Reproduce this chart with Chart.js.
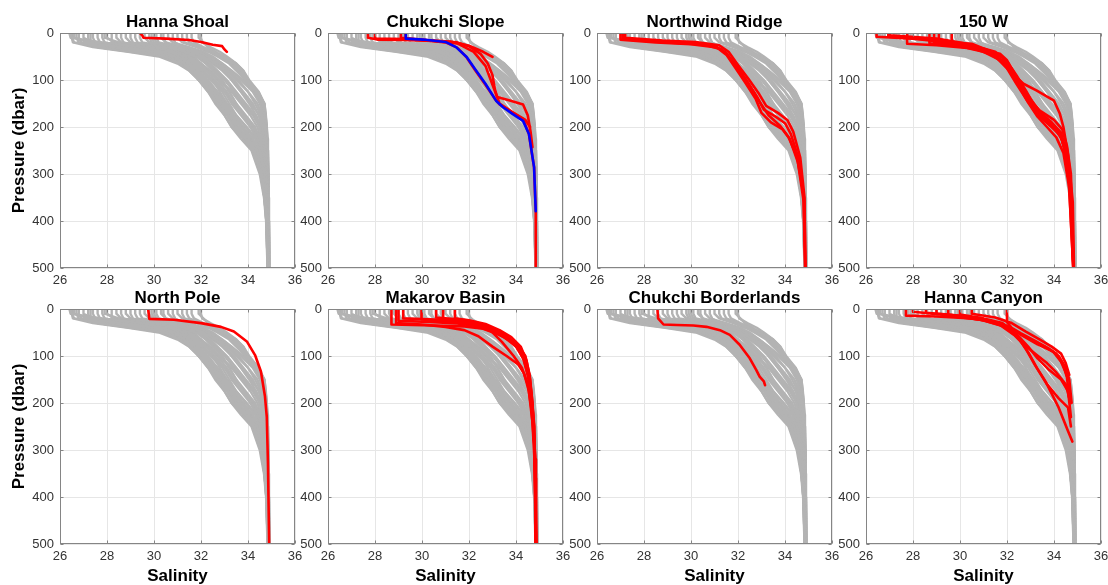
<!DOCTYPE html>
<html>
<head>
<meta charset="utf-8">
<title>Salinity profiles</title>
<script src="https://cdn.jsdelivr.net/npm/chart.js@4.4.1/dist/chart.umd.min.js"></script>
<style>
  html, body { margin: 0; padding: 0; background: #fff; }
  #wrap { position: relative; width: 1108px; height: 585px; overflow: hidden; }
  #wrap canvas { position: absolute; }
</style>
</head>
<body>
<div id="wrap"></div>
<script>
// pressure levels (dbar) used by all the grey background casts
const GRAY_LEVELS = [0, 10, 20, 30, 40, 50, 65, 80, 100, 125, 150, 175, 200, 225, 250, 300, 350, 400, 500];

// salinity of each background cast at GRAY_LEVELS
const GRAY_PROFILES = [
  [26.4, 26.45, 27.8, 29.5, 30.4, 30.9, 31.3, 31.6, 31.9, 32.4, 32.7, 33.1, 33.4, 33.9, 34.25, 34.55, 34.7, 34.78, 34.84],
  [26.6, 26.6, 27.2, 28.6, 30.0, 30.8, 31.3, 31.7, 32.1, 32.5, 32.9, 33.3, 33.7, 34.2, 34.4, 34.6, 34.72, 34.8, 34.85],
  [27.0, 27.0, 27.4, 29.0, 30.3, 31.0, 31.5, 31.9, 32.3, 32.7, 33.0, 33.3, 33.6, 34.0, 34.3, 34.6, 34.73, 34.8, 34.85],
  [27.6, 27.6, 27.7, 29.8, 30.8, 31.3, 31.7, 32.0, 32.4, 32.9, 33.2, 33.5, 33.9, 34.3, 34.5, 34.68, 34.77, 34.82, 34.86],
  [28.0, 28.0, 28.3, 29.3, 30.6, 31.2, 31.6, 31.9, 32.2, 32.6, 32.9, 33.2, 33.5, 34.0, 34.35, 34.62, 34.75, 34.81, 34.86],
  [28.4, 28.4, 28.6, 30.2, 31.0, 31.5, 31.9, 32.2, 32.6, 33.0, 33.3, 33.7, 34.1, 34.4, 34.55, 34.7, 34.78, 34.83, 34.87],
  [28.8, 28.8, 29.0, 30.5, 31.3, 31.8, 32.2, 32.5, 32.9, 33.2, 33.5, 33.9, 34.3, 34.5, 34.62, 34.74, 34.8, 34.84, 34.87],
  [29.2, 29.2, 29.3, 30.0, 31.2, 31.7, 32.0, 32.4, 32.8, 33.3, 33.7, 34.1, 34.4, 34.55, 34.65, 34.76, 34.82, 34.85, 34.88],
  [29.6, 29.6, 29.8, 30.8, 31.6, 32.0, 32.4, 32.7, 33.1, 33.5, 33.9, 34.3, 34.5, 34.62, 34.7, 34.78, 34.83, 34.86, 34.88],
  [30.0, 30.0, 30.1, 31.0, 31.7, 32.1, 32.6, 33.0, 33.4, 33.8, 34.2, 34.45, 34.6, 34.7, 34.75, 34.8, 34.84, 34.87, 34.89],
  [30.3, 30.3, 30.5, 31.3, 31.9, 32.3, 32.7, 33.1, 33.5, 34.0, 34.4, 34.6, 34.7, 34.76, 34.8, 34.83, 34.86, 34.88, 34.89],
  [30.6, 30.6, 30.8, 31.5, 32.1, 32.5, 32.9, 33.3, 33.7, 34.2, 34.5, 34.65, 34.74, 34.78, 34.81, 34.84, 34.87, 34.88, 34.9],
  [31.0, 31.0, 31.2, 31.8, 32.3, 32.7, 33.2, 33.5, 33.9, 34.35, 34.6, 34.7, 34.76, 34.8, 34.82, 34.85, 34.87, 34.89, 34.9],
  [31.4, 31.4, 31.5, 32.0, 32.5, 32.9, 33.4, 33.7, 34.0, 34.4, 34.7, 34.75, 34.8, 34.82, 34.84, 34.86, 34.88, 34.89, 34.9],
  [31.9, 31.9, 32.1, 32.3, 32.6, 32.9, 33.3, 33.6, 33.9, 34.3, 34.65, 34.73, 34.78, 34.81, 34.83, 34.86, 34.88, 34.89, 34.9],
  [26.8, 26.8, 26.9, 28.2, 29.4, 30.5, 31.1, 31.5, 31.9, 32.3, 32.7, 33.0, 33.3, 33.8, 34.2, 34.55, 34.7, 34.78, 34.84],
  [27.3, 27.3, 27.3, 27.6, 29.0, 30.6, 31.2, 31.6, 32.0, 32.5, 32.8, 33.2, 33.4, 33.9, 34.3, 34.6, 34.72, 34.8, 34.85],
  [28.2, 28.2, 28.2, 28.4, 29.8, 31.0, 31.5, 31.8, 32.1, 32.6, 33.0, 33.4, 33.8, 34.2, 34.45, 34.66, 34.76, 34.82, 34.86],
  [29.0, 29.0, 29.1, 29.4, 30.6, 31.4, 31.8, 32.1, 32.5, 32.8, 33.1, 33.4, 33.7, 34.1, 34.4, 34.65, 34.76, 34.82, 34.86],
  [29.9, 29.9, 30.0, 30.3, 31.2, 31.9, 32.3, 32.6, 33.0, 33.4, 33.8, 34.2, 34.5, 34.64, 34.72, 34.79, 34.84, 34.87, 34.89],
  [30.8, 30.8, 30.9, 31.2, 31.8, 32.4, 32.8, 33.2, 33.6, 34.0, 34.3, 34.55, 34.68, 34.75, 34.79, 34.83, 34.86, 34.88, 34.9],
  [27.9, 27.9, 28.5, 30.4, 31.1, 31.6, 32.0, 32.3, 32.7, 33.1, 33.4, 33.8, 34.2, 34.45, 34.6, 34.72, 34.8, 34.84, 34.87],
  [31.6, 31.6, 31.7, 32.1, 32.6, 33.0, 33.5, 33.8, 34.0, 34.3, 34.55, 34.7, 34.77, 34.8, 34.83, 34.86, 34.88, 34.89, 34.9],
  [26.5, 26.5, 26.6, 28.0, 29.8, 30.7, 31.2, 31.6, 31.9, 32.3, 32.6, 33.0, 33.3, 33.7, 34.15, 34.5, 34.68, 34.77, 34.83],
  [26.5, 26.5, 26.55, 27.4, 28.9, 30.2, 31.0, 31.5, 31.9, 32.4, 32.75, 33.15, 33.45, 33.95, 34.25, 34.55, 34.7, 34.78, 34.84],
  [26.7, 26.7, 26.8, 27.6, 29.2, 30.4, 31.1, 31.6, 32.0, 32.5, 32.85, 33.25, 33.55, 34.05, 34.35, 34.6, 34.72, 34.8, 34.85],
  [27.2, 27.2, 27.25, 28.0, 29.6, 30.8, 31.4, 31.8, 32.2, 32.7, 33.1, 33.5, 33.95, 34.35, 34.5, 34.66, 34.76, 34.81, 34.86],
  [27.8, 27.8, 27.9, 28.6, 30.1, 31.1, 31.6, 32.0, 32.5, 33.0, 33.4, 33.85, 34.25, 34.5, 34.6, 34.72, 34.79, 34.84, 34.87],
  [28.6, 28.6, 28.7, 29.2, 30.4, 31.3, 31.9, 32.3, 32.75, 33.3, 33.8, 34.25, 34.5, 34.62, 34.7, 34.77, 34.82, 34.85, 34.88],
  [29.4, 29.4, 29.5, 30.6, 31.4, 32.0, 32.5, 32.9, 33.3, 33.7, 34.05, 34.35, 34.55, 34.66, 34.73, 34.79, 34.84, 34.87, 34.89],
  [30.1, 30.1, 30.2, 31.1, 31.9, 32.4, 32.9, 33.3, 33.8, 34.25, 34.55, 34.68, 34.75, 34.79, 34.82, 34.85, 34.87, 34.89, 34.9],
  [31.2, 31.2, 31.3, 31.9, 32.4, 32.8, 33.3, 33.65, 34.0, 34.45, 34.68, 34.74, 34.79, 34.82, 34.84, 34.86, 34.88, 34.89, 34.9],
  [32.0, 32.0, 32.05, 32.4, 32.8, 33.1, 33.5, 33.8, 34.05, 34.45, 34.7, 34.76, 34.8, 34.83, 34.85, 34.87, 34.88, 34.89, 34.9],
  [29.8, 29.8, 29.9, 30.7, 31.5, 31.9, 32.3, 32.6, 32.9, 33.2, 33.5, 33.8, 34.1, 34.4, 34.55, 34.7, 34.79, 34.84, 34.87],
  [27.4, 27.4, 27.5, 29.3, 30.5, 31.1, 31.5, 31.8, 32.1, 32.5, 32.85, 33.15, 33.45, 33.85, 34.25, 34.58, 34.72, 34.8, 34.85],
  [30.4, 30.4, 30.5, 30.9, 31.6, 32.2, 32.6, 33.0, 33.3, 33.7, 34.1, 34.5, 34.66, 34.74, 34.78, 34.83, 34.86, 34.88, 34.89]
];

// highlighted casts per region, as [salinity, pressure] pairs
const RED_HANNA_SHOAL = [
  [[29.4, 0], [29.5, 5], [29.55, 10], [30.5, 12], [31.5, 15], [32.0, 19], [32.5, 25], [32.9, 28], [33.0, 35], [33.1, 40]]
];
const RED_CHUKCHI_SLOPE = [
  [[29.3, 0], [29.3, 12], [30.0, 15], [31.0, 20], [31.5, 31], [31.9, 52], [32.3, 82], [32.7, 110], [33.1, 140], [33.3, 152], [33.8, 168], [34.3, 183], [34.55, 215], [34.77, 286], [34.84, 380], [34.84, 500]],
  [[27.7, 0], [27.7, 10], [28.1, 14], [29.2, 15], [30.5, 17], [31.5, 20], [32.0, 28], [32.5, 45], [32.8, 65], [33.0, 90], [33.1, 120], [33.2, 136], [33.7, 143], [34.3, 152], [34.5, 175], [34.62, 210], [34.7, 243]],
  [[28.0, 0], [28.0, 12], [29.3, 13], [31.2, 18], [32.0, 27], [32.6, 40], [33.0, 51]],
  [[29.1, 0], [29.1, 10], [30.2, 15], [31.5, 22], [32.2, 40], [32.7, 70], [33.0, 110], [33.3, 150], [33.9, 170], [34.4, 185], [34.6, 200]]
];
const BLUE_CHUKCHI_SLOPE = [
  [29.31, 0], [29.31, 12], [30.05, 14], [31.0, 19], [31.45, 30], [31.9, 51], [32.3, 80], [32.7, 108], [33.15, 144], [33.45, 158], [33.85, 172], [34.3, 187], [34.55, 215], [34.77, 286], [34.84, 379]
];
const RED_NORTHWIND = [
  [[27.1, 0], [27.1, 12], [28.5, 18], [30.0, 21], [31.0, 27], [31.5, 42], [31.9, 70], [32.35, 100], [32.8, 135], [33.1, 163], [33.6, 178], [34.0, 192], [34.25, 215], [34.6, 270], [34.82, 355], [34.87, 500]],
  [[27.0, 0], [27.0, 14], [28.5, 20], [30.0, 24], [31.1, 31], [31.5, 46], [31.9, 75], [32.3, 105], [32.75, 140], [33.0, 170], [33.4, 190], [33.9, 205], [34.2, 225], [34.55, 275], [34.8, 360], [34.86, 500]],
  [[27.2, 0], [27.2, 10], [28.8, 16], [30.2, 19], [31.2, 26], [31.6, 40], [32.0, 68], [32.45, 98], [32.9, 130], [33.2, 155], [33.7, 170], [34.1, 185], [34.35, 210], [34.65, 265], [34.83, 350], [34.87, 500]],
  [[27.1, 0], [27.1, 13], [29.0, 20], [30.6, 25], [31.3, 35], [31.7, 55], [32.1, 82], [32.5, 112], [32.9, 145], [33.3, 175], [33.8, 198], [34.15, 222], [34.5, 262], [34.78, 340], [34.86, 500]]
];
const RED_150W = [
  [[26.45, 0], [26.45, 8], [28.0, 12], [29.5, 20], [30.5, 30], [31.2, 42], [31.8, 58], [32.2, 85], [32.6, 115], [33.0, 150], [33.4, 178], [33.9, 200], [34.3, 220], [34.5, 255], [34.7, 325], [34.83, 500]],
  [[26.95, 0], [26.95, 8], [28.5, 13], [30.0, 25], [30.9, 36], [31.6, 52], [32.0, 75], [32.4, 108], [32.85, 143], [33.25, 170], [33.8, 195], [34.25, 213], [34.47, 250], [34.68, 320], [34.82, 500]],
  [[27.75, 0], [27.75, 23], [29.0, 26], [30.3, 32], [31.0, 40], [31.6, 55], [32.1, 80], [32.5, 112], [32.9, 148], [33.3, 178], [33.7, 200], [34.1, 222], [34.4, 255], [34.65, 330], [34.82, 500]],
  [[28.7, 0], [28.7, 22], [29.8, 27], [30.7, 35], [31.3, 45], [31.9, 65], [32.3, 95], [32.8, 135], [33.2, 165], [33.7, 188], [34.2, 208], [34.45, 245], [34.7, 310], [34.83, 500]],
  [[28.9, 0], [28.9, 20], [30.0, 24], [31.0, 33], [31.5, 40], [32.0, 60], [32.4, 90], [32.8, 122], [33.2, 158], [33.6, 180], [34.0, 200], [34.35, 228], [34.6, 285], [34.82, 500]],
  [[29.1, 0], [29.1, 18], [30.5, 23], [31.4, 41], [31.7, 44], [32.0, 58], [32.4, 94], [32.7, 108], [33.25, 122], [34.0, 144], [34.25, 172], [34.4, 200], [34.6, 260], [34.8, 360], [34.85, 500]],
  [[29.65, 0], [29.65, 20], [30.4, 28], [31.2, 38], [31.8, 52], [32.2, 78], [32.6, 110], [33.0, 140], [33.4, 168], [33.9, 190], [34.3, 212], [34.5, 250], [34.7, 320], [34.83, 500]],
  [[27.0, 0], [27.0, 5], [29.0, 12], [30.2, 22], [31.0, 34], [31.5, 48], [32.0, 70], [32.5, 104], [32.9, 138], [33.4, 165], [34.0, 185], [34.35, 205], [34.55, 240], [34.72, 300], [34.84, 500]]
];
const RED_NORTH_POLE = [
  [[29.75, 0], [29.8, 21], [30.85, 23], [32.0, 30], [32.85, 38], [33.4, 48], [33.95, 69], [34.3, 98], [34.55, 133], [34.72, 185], [34.8, 230], [34.85, 330], [34.9, 500]]
];
const RED_MAKAROV = [
  [[28.7, 0], [28.7, 33], [30.5, 35], [31.8, 37], [32.6, 42], [33.3, 55], [33.9, 72], [34.25, 95], [34.5, 130], [34.65, 185], [34.77, 250], [34.84, 500]],
  [[29.0, 0], [29.0, 25], [30.5, 28], [31.5, 31], [32.3, 36], [33.0, 48], [33.6, 62], [34.05, 82], [34.35, 110], [34.55, 150], [34.7, 220], [34.82, 320], [34.85, 500]],
  [[29.2, 0], [29.2, 20], [30.8, 23], [31.8, 28], [32.6, 34], [33.4, 52], [33.95, 72], [34.3, 96], [34.52, 130], [34.66, 180], [34.78, 250], [34.85, 500]],
  [[29.98, 0], [29.98, 22], [31.0, 26], [32.0, 32], [32.8, 42], [33.5, 60], [34.0, 80], [34.3, 104], [34.5, 140], [34.68, 200], [34.8, 300], [34.85, 500]],
  [[30.6, 0], [30.6, 18], [31.5, 22], [32.3, 30], [33.0, 40], [33.6, 58], [34.1, 78], [34.4, 100], [34.58, 140], [34.7, 200], [34.8, 300], [34.86, 500]],
  [[30.9, 0], [30.9, 22], [31.8, 27], [32.4, 33], [32.9, 45], [33.4, 70], [33.9, 100], [34.25, 125], [34.5, 160], [34.65, 210], [34.78, 290], [34.85, 500]],
  [[31.4, 0], [31.4, 20], [32.0, 24], [32.7, 32], [33.3, 45], [33.8, 60], [34.2, 80], [34.45, 110], [34.6, 150], [34.72, 220], [34.82, 330], [34.86, 500]],
  [[28.9, 0], [28.9, 30], [30.0, 33], [31.0, 38], [31.8, 45], [32.4, 58], [33.0, 80], [33.6, 100], [34.1, 118], [34.35, 138], [34.55, 175], [34.7, 240], [34.83, 360], [34.85, 500]]
];
const RED_BORDERLANDS = [
  [[28.57, 0], [28.6, 20], [28.83, 33], [29.4, 34], [30.1, 35], [30.66, 38], [31.23, 45], [31.65, 55], [32.07, 76], [32.5, 105], [32.78, 130], [32.92, 144], [33.1, 154], [33.15, 162]]
];
const RED_HANNA_CANYON = [
  [[27.7, 0], [27.7, 14], [29.0, 16], [30.5, 20], [31.5, 28], [32.0, 36], [32.6, 55], [33.3, 75], [33.95, 90], [34.3, 112], [34.5, 135], [34.6, 150]],
  [[28.55, 0], [28.55, 8], [29.5, 12], [30.8, 20], [31.8, 32], [32.4, 48], [33.0, 65], [33.6, 80], [34.1, 95], [34.4, 120], [34.55, 145], [34.65, 190]],
  [[32.0, 0], [32.0, 28], [32.2, 40], [32.6, 52], [33.2, 68], [33.8, 85], [34.2, 100], [34.5, 125], [34.65, 150], [34.75, 200]],
  [[29.0, 0], [29.0, 10], [30.2, 15], [31.3, 25], [32.0, 40], [32.5, 58], [32.9, 80], [33.3, 105], [33.8, 130], [34.3, 150], [34.6, 175], [34.72, 230]],
  [[30.0, 0], [30.0, 12], [31.0, 20], [31.8, 30], [32.3, 48], [32.8, 85], [33.2, 120], [33.65, 155], [34.2, 210], [34.6, 260], [34.78, 282]],
  [[28.0, 0], [28.0, 6], [29.6, 14], [31.0, 24], [31.9, 38], [32.5, 62], [32.9, 92], [33.3, 128], [33.7, 160], [34.2, 190], [34.6, 210], [34.72, 250]],
  [[30.5, 0], [30.5, 10], [31.5, 18], [32.2, 30], [32.8, 48], [33.4, 65], [33.9, 80], [34.3, 95], [34.5, 115], [34.65, 140]],
  [[29.5, 0], [29.5, 15], [30.8, 22], [31.7, 34], [32.3, 55], [32.7, 75], [33.2, 95], [33.7, 115], [34.1, 135], [34.5, 160], [34.7, 200]]
];

const PANEL_TITLES = ["Hanna Shoal", "Chukchi Slope", "Northwind Ridge", "150 W",
                      "North Pole", "Makarov Basin", "Chukchi Borderlands", "Hanna Canyon"];
const PANEL_RED = [RED_HANNA_SHOAL, RED_CHUKCHI_SLOPE, RED_NORTHWIND, RED_150W,
                   RED_NORTH_POLE, RED_MAKAROV, RED_BORDERLANDS, RED_HANNA_CANYON];

const X_TICKS = [26, 28, 30, 32, 34, 36];
const Y_TICKS = [0, 100, 200, 300, 400, 500];

// grid geometry (plot area of each panel)
const PLOT_LEFT = [60, 328, 597, 866];
const PLOT_TOP = [33, 309];
const PLOT_W = 235;
const PLOT_H = 235;
const AXIS_W = 60;
const TITLE_H = 33;
const BOTTOM_H = 41;
const RIGHT_PAD = 14;

const FONT = "'Liberation Sans', Arial, Helvetica, sans-serif";
const GRAY = "#b3b3b3";

// frame around the plot area, inward tick marks and the panel title
const boxPlugin = {
  id: "box",
  afterDatasetsDraw(chart) {
    const { ctx, chartArea: a, scales } = chart;
    const l = Math.round(a.left) + 0.5, r = Math.round(a.right) - 0.5;
    const t = Math.round(a.top) + 0.5, b = Math.round(a.bottom) - 0.5;
    ctx.save();
    ctx.strokeStyle = "#858585";
    ctx.lineWidth = 1;
    ctx.strokeRect(l, t, r - l, b - t);
    ctx.beginPath();
    X_TICKS.forEach(v => {
      const px = Math.round(scales.x.getPixelForValue(v)) + 0.5;
      ctx.moveTo(px, b); ctx.lineTo(px, b - 3);
      ctx.moveTo(px, t); ctx.lineTo(px, t + 3);
    });
    Y_TICKS.forEach(v => {
      const py = Math.round(scales.y.getPixelForValue(v)) + 0.5;
      ctx.moveTo(l, py); ctx.lineTo(l + 3, py);
      ctx.moveTo(r, py); ctx.lineTo(r - 3, py);
    });
    ctx.stroke();

    // title centred over the plot area
    ctx.fillStyle = "#000";
    ctx.font = "bold 17px " + FONT;
    ctx.textAlign = "center";
    ctx.textBaseline = "alphabetic";
    ctx.fillText(chart.options.panelTitle, (a.left + a.right) / 2, a.top - 6.5);
    ctx.restore();
  }
};

function toPoints(pairs) {
  return pairs.map(p => ({ x: p[0], y: p[1] }));
}

function lineSet(data, color, width, order) {
  return {
    data: data,
    showLine: true,
    borderColor: color,
    borderWidth: width,
    pointRadius: 0,
    borderJoinStyle: "round",
    borderCapStyle: "round",
    order: order
  };
}

function makePanel(i) {
  const col = i % 4, row = Math.floor(i / 4);
  const canvas = document.createElement("canvas");
  canvas.width = AXIS_W + PLOT_W + RIGHT_PAD;
  canvas.height = TITLE_H + PLOT_H + BOTTOM_H;
  canvas.style.left = (PLOT_LEFT[col] - AXIS_W) + "px";
  canvas.style.top = (PLOT_TOP[row] - TITLE_H) + "px";
  document.getElementById("wrap").appendChild(canvas);

  const datasets = [];
  GRAY_PROFILES.forEach(sal => {
    datasets.push(lineSet(sal.map((s, k) => ({ x: s, y: GRAY_LEVELS[k] })), GRAY, 2.4, 3));
  });
  PANEL_RED[i].forEach(cast => datasets.push(lineSet(toPoints(cast), "#ff0000", 2.6, 2)));
  if (i === 1) datasets.push(lineSet(toPoints(BLUE_CHUKCHI_SLOPE), "#0000ff", 2.6, 1));

  new Chart(canvas, {
    type: "scatter",
    data: { datasets: datasets },
    options: {
      panelTitle: PANEL_TITLES[i],
      responsive: false,
      animation: false,
      devicePixelRatio: 1,
      layout: { padding: { left: 0, right: RIGHT_PAD, top: TITLE_H, bottom: 0 } },
      plugins: {
        legend: { display: false },
        tooltip: { enabled: false },
        title: { display: false }
      },
      scales: {
        x: {
          type: "linear",
          min: 26,
          max: 36,
          afterBuildTicks: s => { s.ticks = X_TICKS.map(v => ({ value: v })); },
          afterFit: s => { s.height = BOTTOM_H; },
          grid: { color: "#e6e6e6", drawTicks: false },
          border: { display: false },
          ticks: { color: "#333", font: { family: FONT, size: 13 }, padding: 5, maxRotation: 0 },
          title: {
            display: row === 1,
            text: "Salinity",
            color: "#000",
            font: { family: FONT, size: 17, weight: "bold", lineHeight: 1.0 },
            padding: { top: 0, bottom: 0 }
          }
        },
        y: {
          type: "linear",
          reverse: true,
          min: 0,
          max: 500,
          afterBuildTicks: s => { s.ticks = Y_TICKS.map(v => ({ value: v })); },
          afterFit: s => { s.width = AXIS_W; },
          grid: { color: "#e6e6e6", drawTicks: false },
          border: { display: false },
          ticks: { color: "#333", font: { family: FONT, size: 13 }, padding: 6 },
          title: {
            display: col === 0,
            text: "Pressure (dbar)",
            color: "#000",
            font: { family: FONT, size: 17, weight: "bold", lineHeight: 1.2 },
            padding: { top: 9.5, bottom: 0 }
          }
        }
      }
    },
    plugins: [boxPlugin]
  });
}

PANEL_TITLES.forEach((t, i) => makePanel(i));
</script>
</body>
</html>
